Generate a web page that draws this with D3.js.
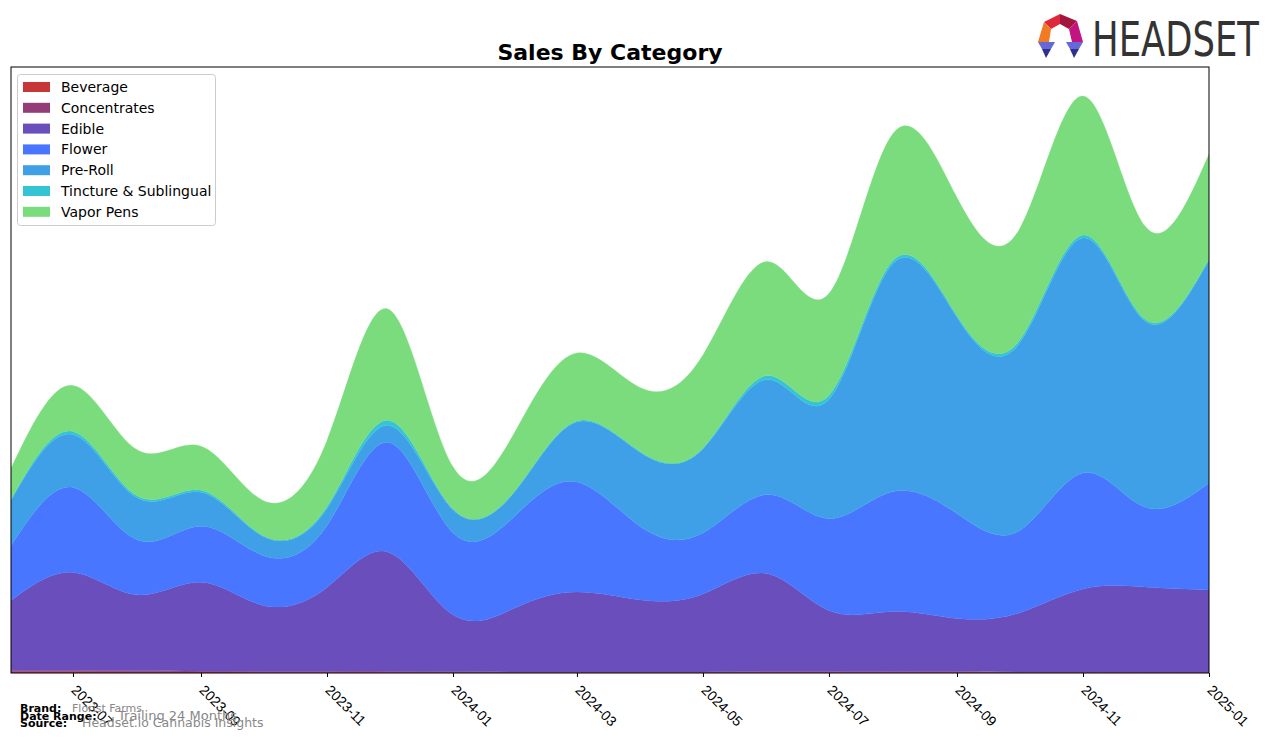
<!DOCTYPE html>
<html>
<head>
<meta charset="utf-8">
<script src="https://cdn.jsdelivr.net/npm/d3@7"></script>
<style>
  html, body { margin: 0; padding: 0; background: #fff; }
  svg { display: block; font-family: "DejaVu Sans", sans-serif; }
</style>
</head>
<body>
<svg id="chart" width="1276" height="743"></svg>
<script>
// ---- Data (monthly sales, arbitrary units) ----
const months = ["2023-06","2023-07","2023-08","2023-09","2023-10","2023-11","2023-12",
  "2024-01","2024-02","2024-03","2024-04","2024-05","2024-06","2024-07","2024-08",
  "2024-09","2024-10","2024-11","2024-12","2025-01"];
const categories = ["Beverage","Concentrates","Edible","Flower","Pre-Roll","Tincture & Sublingual","Vapor Pens"];
const beverage     = [1.5,1.5,1.2,1.0,0.8,0.8,0.8,0.6,0.5,0.5,0.5,0.5,0.6,0.6,0.6,0.6,0.5,0.4,0.3,0.3];
const concentrates = [1.0,1.0,1.0,0.8,0.8,0.8,0.8,0.6,0.6,0.6,0.6,0.6,0.8,0.8,0.8,0.8,0.6,0.6,0.6,0.6];
const edible       = [70,98,76,89,66,84,119,57,65,80,72,78,98,61,60,53,59,83,85,82];
const flower       = [55,85,55,56,50,62,110,82,93,110,73,61,79,92,120,105,82,116,80,107];
const preRoll      = [45,53,42,34,19,17,17,23,25,60,74,84,115,119,228,196,187,235,186,223];
const tincture     = [1,3,2,2,1,2,5,1,1,1,1,1,4,4,3,2,3,3,2,1];
const vaporPens    = [31,46,46,44,35,66,111,42,60,68,64,93,114,102,127,118,111,139,93,105];
const colors = ["#c83737","#943c78","#6a4ebc","#4876ff","#3fa0e8","#35c4d4","#7bdc7d"];
const tickLabels = ["2023-07","2023-09","2023-11","2024-01","2024-03","2024-05","2024-07","2024-09","2024-11","2025-01"];
const yMax = 606;

const seriesArrays = [beverage, concentrates, edible, flower, preRoll, tincture, vaporPens];
const parse = d3.utcParse("%Y-%m");
const table = months.map((m, i) => {
  const row = { date: parse(m) };
  categories.forEach((c, k) => row[c] = seriesArrays[k][i]);
  return row;
});

const svg = d3.select("#chart");
const L = 11, R = 1209, T = 67, B = 673;

const x = d3.scaleUtc().domain([parse("2023-06"), parse("2025-01")]).range([L, R]);
const y = d3.scaleLinear().domain([0, yMax]).range([B, T]);

const stack = d3.stack().keys(categories);
const layers = stack(table);

const area = d3.area()
  .curve(d3.curveNatural)
  .x(d => x(d.data.date))
  .y0(d => y(d[0]))
  .y1(d => y(d[1]));

svg.append("clipPath").attr("id", "plotclip")
  .append("rect").attr("x", L).attr("y", T).attr("width", R - L).attr("height", B - T);

svg.append("g").attr("clip-path", "url(#plotclip)")
  .selectAll("path").data(layers).join("path")
  .attr("d", area)
  .attr("fill", (d, i) => colors[i])
  .attr("stroke", (d, i) => colors[i])
  .attr("stroke-width", 0.3);

// frame
svg.append("rect").attr("x", L).attr("y", T).attr("width", R - L).attr("height", B - T)
  .attr("fill", "none").attr("stroke", "#000").attr("stroke-width", 1);

// x axis
const xAxis = d3.axisBottom(x)
  .tickValues(tickLabels.map(parse))
  .tickFormat(d3.utcFormat("%Y-%m"))
  .tickSize(4).tickSizeOuter(0);
const gx = svg.append("g").attr("transform", `translate(0,${B})`).call(xAxis);
gx.select(".domain").remove();
gx.selectAll(".tick line").attr("stroke", "#000");
gx.selectAll(".tick text")
  .attr("font-size", 14).attr("fill", "#000")
  .attr("text-anchor", "start")
  .attr("dy", 0).attr("y", 0)
  .attr("transform", "translate(-3,18) rotate(45)");

// title
svg.append("text").attr("x", (L + R) / 2).attr("y", 60)
  .attr("text-anchor", "middle").attr("font-size", 22).attr("font-weight", "bold")
  .text("Sales By Category");

// legend
const lg = svg.append("g");
lg.append("rect").attr("x", 17.5).attr("y", 74.5).attr("width", 198).attr("height", 151)
  .attr("rx", 3).attr("fill", "#fff").attr("fill-opacity", 0.8).attr("stroke", "#ccc");
categories.forEach((c, i) => {
  const cy = 87 + i * 20.8;
  lg.append("rect").attr("x", 23).attr("y", cy - 5).attr("width", 27).attr("height", 10).attr("fill", colors[i]);
  lg.append("text").attr("x", 61).attr("y", cy + 5).attr("font-size", 14).attr("fill", "#000").text(c);
});

// footer
const foot = svg.append("g");
foot.append("text").attr("x", 20).attr("y", 712).attr("font-size", 11).attr("font-weight", "bold").text("Brand:");
foot.append("text").attr("x", 20).attr("y", 719.5).attr("font-size", 11).attr("font-weight", "bold").text("Date Range:");
foot.append("text").attr("x", 20).attr("y", 727).attr("font-size", 11).attr("font-weight", "bold").text("Source:");
foot.append("text").attr("x", 72).attr("y", 712).attr("font-size", 11).attr("fill", "#888").text("Florist Farms");
foot.append("text").attr("x", 118).attr("y", 720).attr("font-size", 13).attr("fill", "#888").text("Trailing 24 Months");
foot.append("text").attr("x", 82).attr("y", 727).attr("font-size", 12.5).attr("fill", "#888").text("Headset.io Cannabis Insights");

// logo
const logo = svg.append("g");
const polys = [
  { c: "#e0283c", p: [[1044,22],[1060,14],[1060,24],[1051,29]] },
  { c: "#a3163e", p: [[1060,14],[1077,21],[1069,29],[1060,24]] },
  { c: "#f07b22", p: [[1044,22],[1051,29],[1049,42],[1038,42]] },
  { c: "#c3157f", p: [[1077,21],[1083,42],[1072,42],[1069,29]] },
  { c: "#6468d8", p: [[1038,42],[1055,42],[1051,49],[1042,49]] },
  { c: "#2f2f8c", p: [[1042,49],[1051,49],[1046,58]] },
  { c: "#6468d8", p: [[1066,42],[1083,42],[1079,49],[1070,49]] },
  { c: "#2f2f8c", p: [[1070,49],[1079,49],[1074,58]] }
];
polys.forEach(o => logo.append("polygon").attr("points", o.p.map(q => q.join(",")).join(" ")).attr("fill", o.c));
const logoText = logo.append("text").attr("x", 0).attr("y", 0).attr("font-size", 48)
  .attr("font-family", "'Liberation Sans Narrow', 'DejaVu Sans Condensed', sans-serif")
  .attr("fill", "#333")
  .text("HEADSET");
const natW = logoText.node().getComputedTextLength() || 167;
logoText.attr("transform", `translate(1092,56) scale(${167 / natW},1)`);
</script>
</body>
</html>
